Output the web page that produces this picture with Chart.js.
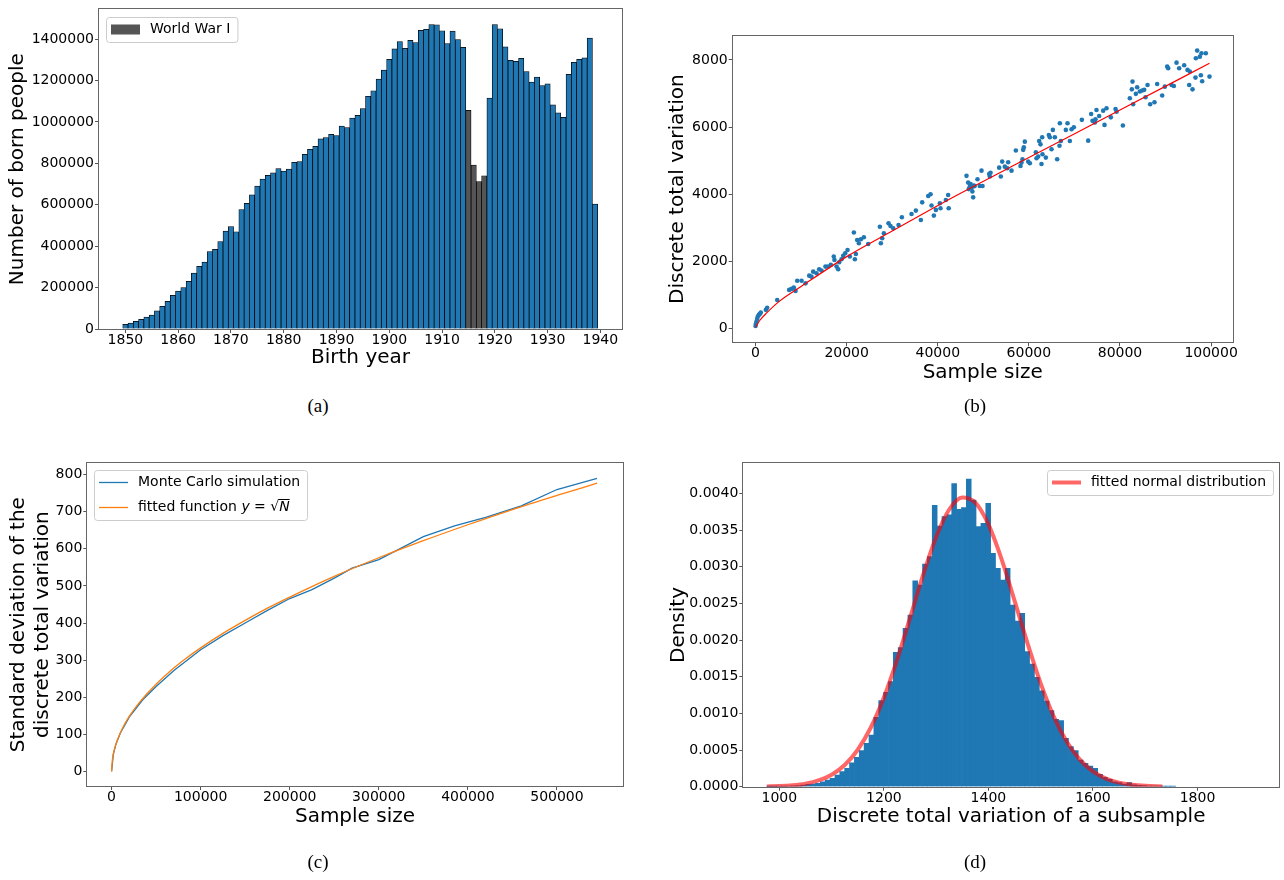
<!DOCTYPE html>
<html>
<head>
<meta charset="utf-8">
<script src="https://cdn.jsdelivr.net/npm/chart.js@4.4.1/dist/chart.umd.min.js"></script>
<style>
  html, body { margin: 0; padding: 0; background: #fff; }
  body { position: relative; width: 1284px; height: 880px; overflow: hidden; }
  canvas { position: absolute; }
  .cap { position: absolute; font: 19px "Liberation Serif", "Times New Roman", serif; color: #000; transform: translate(-50%, -50%); }
</style>
</head>
<body>
<canvas id="births" width="640" height="380" style="left:0;top:0"></canvas>
<canvas id="variation" width="639" height="380" style="left:645px;top:20px"></canvas>
<canvas id="spread" width="640" height="415" style="left:0;top:445px"></canvas>
<canvas id="density" width="634" height="415" style="left:650px;top:445px"></canvas>
<div class="cap" style="left:318px;top:406px">(a)</div>
<div class="cap" style="left:975px;top:406px">(b)</div>
<div class="cap" style="left:318px;top:862px">(c)</div>
<div class="cap" style="left:975px;top:862px">(d)</div>
<script>
// (a) births per year, 1850-1939
const firstYear = 1850;
const births = [
  22300, 28600, 36600, 46100, 57300, 66800, 87500, 109800, 133600, 162300,
  183000, 200500, 230700, 270500, 302300, 323000, 373900, 385000, 421600, 472500,
  494800, 469300, 576000, 606200, 647500, 690500, 723900, 741400, 754100, 774800,
  762100, 771600, 805000, 808200, 843200, 867100, 881400, 918000, 924400, 940300,
  933900, 980000, 972100, 1018200, 1031000, 1064300, 1123200, 1150300, 1206100, 1250500,
  1301600, 1352200, 1387500, 1355500, 1393700, 1382700, 1441400, 1446200, 1470100, 1468700,
  1440000, 1378000, 1438100, 1397100, 1360300, 1056300, 790900, 711200, 739800, 1115400,
  1470100, 1449600, 1361800, 1296800, 1292000, 1306300, 1242400, 1191800, 1215700, 1175600,
  1183700, 1082000, 1043800, 1021400, 1230000, 1287300, 1301600, 1309200, 1404700, 603000
];
const warYears = [1915, 1916, 1917, 1918];

// (b) discrete total variation against sample size, with the fitted trend
const sampleSize = [
  0, 70, 210, 360, 500, 720, 940, 1160, 2260, 2550, 4760, 7380, 7900, 8400, 8780, 9150, 10100, 10970,
  11780, 12280, 12650, 13380, 13970, 14480, 15350, 15930, 16520, 17170, 17320, 17780, 18140, 18360,
  18870, 19240, 19680, 20190, 20700, 21580, 21800, 22020, 22310, 22680, 23120, 23780, 24730, 27290,
  27510, 27800, 28170, 29190, 29630, 30220, 31390, 32120, 34240, 35190, 36290, 36580, 37900, 38410,
  38630, 39140, 39580, 40460, 40600, 41770, 42280, 42400, 46310, 46670, 46800, 47040, 47200, 47450,
  47600, 47770, 47900, 48100, 48720, 49230, 49600, 49820, 51280, 51430, 51580, 53480, 53840, 54140,
  54720, 55230, 55450, 56190, 57140, 58160, 58380, 58600, 58750, 58890, 59110, 59850, 60210, 61530,
  61680, 62040, 62260, 62550, 62770, 62920, 62990, 63720, 64380, 64600, 64970, 65260, 65700, 66210,
  66720, 66800, 67020, 68110, 68480, 68990, 69360, 69870, 71630, 73020, 73670, 73970, 74480, 74620,
  74840, 75430, 76310, 76600, 77040, 77990, 79020, 79240, 80630, 82160, 82600, 82750, 82890, 83480,
  83770, 84360, 84870, 85310, 85600, 86040, 86620, 87570, 88160, 89260, 89840, 90360, 90580, 91310,
  91820, 92410, 92990, 94090, 94820, 95190, 95330, 95920, 96570, 96650, 96940, 97530, 97750, 97890,
  98040, 98840, 99650
];
const totalVariation = [
  70, 130, 200, 280, 350, 400, 430, 470, 550, 615, 845, 1145, 1175, 1215, 1115, 1420, 1420, 1340,
  1570, 1540, 1690, 1640, 1760, 1720, 1840, 1840, 1890, 2140, 2040, 1840, 1760, 1970,
  2060, 2160, 2240, 2335, 2140, 2855, 2060, 2215, 2635, 2535, 2655, 2715, 2515, 3030,
  2535, 2685, 2835, 3130, 3050, 2980, 3080, 3310, 3410, 3510, 3230, 3755, 3945, 3995,
  3660, 3360, 3530, 3730, 3580, 3825, 3975, 3580, 4545, 4345, 4150, 4225, 4300, 4190,
  4080, 3905, 4260, 4240, 4445, 4245, 4700, 4245, 4600, 4525, 4640, 4790, 4525, 4970,
  4820, 4770, 4950, 4700, 5300, 4840, 4940, 5040, 5320, 5395, 5565, 4970, 4920, 5250,
  5070, 5120, 5585, 5485, 4900, 5695, 5190, 5090, 5765, 5695, 5340, 5915, 5695, 5040,
  5445, 6115, 5585, 5915, 6115, 5585, 5935, 5995, 6215, 5595, 6390, 6185, 6135, 6235,
  6510, 6330, 6490, 6065, 6560, 6290, 6540, 6460, 6045, 6860, 7125, 7355, 6680, 6990,
  7185, 7060, 7090, 7110, 6890, 7255, 6680, 6740, 7285, 6940, 7205, 7805, 7755, 7255,
  7225, 7920, 7755, 7845, 7705, 7255, 7655, 7125, 7475, 8050, 8280, 8100, 7545, 8200,
  7365, 8200, 7505
];
const trendSize = [0, 1000, 2500, 5000, 10000, 20000, 30000, 42650, 60000, 80000, 99650];
const trendVariation = [30, 248, 467, 780, 1245, 2137, 2900, 3857, 5090, 6506, 7902];

// (c) standard deviation of the discrete total variation
const mcSize = [0, 2000, 5000, 10000, 20000, 35000, 50000, 70000, 100000, 125000, 150000, 175000,
  200000, 225000, 250000, 270000, 300000, 325000, 350000, 385000, 420000, 460000, 500000, 545000];
const mcStd = [0, 46, 74, 104, 147, 193, 229, 272, 328, 366, 400, 434,
  466, 490, 521, 548, 571, 602, 633, 662, 685, 716, 760, 790];
const fitSize = [0, 1000, 3000, 6000, 10000, 15000, 20000, 30000, 40000, 50000, 60000, 80000,
  100000, 125000, 150000, 175000, 200000, 250000, 300000, 350000, 400000, 450000, 500000, 545000];
const fitStd = [0, 33, 58, 81, 105, 129, 149, 182, 210, 235, 258, 298,
  333, 372, 407, 440, 470, 526, 576, 622, 665, 706, 744, 777];

// (d) histogram of subsample variation (100 bins) and fitted normal pdf
const binStart = 976;
const binWidth = 9.31;
const binDensity = [
  0.000002, 0.000002, 0.000005, 0.000005, 0.000009, 0.000011, 0.000016, 0.000023,
  0.000032, 0.000036, 0.000045, 0.000068, 0.000091, 0.000114, 0.000159, 0.000205,
  0.00025, 0.000327, 0.0004, 0.000491, 0.000591, 0.000705, 0.000946, 0.001173,
  0.001287, 0.001432, 0.001832, 0.001896, 0.002159, 0.002341, 0.002809, 0.002751,
  0.003037, 0.003137, 0.003838, 0.003555, 0.003682, 0.003706, 0.004132, 0.003783,
  0.003805, 0.004196, 0.00391, 0.003546, 0.003591, 0.003864, 0.003182, 0.002978,
  0.002819, 0.002978, 0.002478, 0.002259, 0.002364, 0.001841, 0.001673, 0.001491,
  0.001309, 0.001168, 0.001037, 0.000918, 0.0009, 0.000659, 0.000546, 0.000491,
  0.000364, 0.000318, 0.000282, 0.00025, 0.000168, 0.000127, 0.0001, 0.000068,
  0.000055, 0.000036, 0.000055, 0.000027, 0.000018, 0.000014, 0.00001, 0.000009,
  0.000007, 0.000005, 0.000005, 0.000003, 0, 0, 0, 0, 0, 0,
  0, 0, 0, 0, 0, 0, 0, 0, 0, 0
];
const normalX = [976, 1000, 1025, 1050, 1075, 1100, 1125, 1150, 1175, 1200, 1225, 1250, 1275, 1300,
  1325, 1350, 1375, 1400, 1425, 1450, 1475, 1500, 1525, 1550, 1575, 1600, 1625, 1650, 1675, 1700, 1733];
const normalPdf = [0.0000035, 0.0000082, 0.000019, 0.000041, 0.000085, 0.000163, 0.000295, 0.000504,
  0.000807, 0.001216, 0.001726, 0.002301, 0.002887, 0.003406, 0.00378, 0.003945, 0.003873, 0.003577,
  0.003107, 0.002538, 0.001951, 0.001409, 0.000958, 0.000612, 0.000369, 0.000208, 0.000111,
  0.000055, 0.000026, 0.0000116, 0.0000036];

const BLUE = '#1f77b4';
const ORANGE = '#ff7f0e';
const WAR = '#555555';
const FIT_RED = 'rgba(255, 0, 0, 0.6)';

Chart.defaults.font.family = '"DejaVu Sans", sans-serif';
Chart.defaults.color = '#000';
Chart.defaults.animation = false;

const pairs = (xs, ys) => xs.map((x, i) => ({ x, y: ys[i] }));

// legends sit inside the plot area, keyed by canvas id
const LEGENDS = {
  births: { side: 'left', dx: 7, dy: 8, items: [
    { swatch: 'box', color: WAR, parts: [['World War I']] }
  ] },
  spread: { side: 'left', dx: 7, dy: 7, items: [
    { swatch: 'line', color: BLUE, width: 1.3, parts: [['Monte Carlo simulation']] },
    { swatch: 'line', color: ORANGE, width: 1.3,
      parts: [['fitted function '], ['y', 'i'], [' = '], ['\u221A'], ['N', 'i', 'bar']] }
  ] },
  density: { side: 'right', dx: 6, dy: 7, items: [
    { swatch: 'line', color: FIT_RED, width: 4, parts: [['fitted normal distribution']] }
  ] }
};

// box around the whole plot area
const frame = {
  id: 'frame',
  afterDatasetsDraw(chart) {
    const { ctx, chartArea: a } = chart;
    ctx.save();
    ctx.strokeStyle = '#666';
    ctx.lineWidth = 1;
    const l = Math.round(a.left), t = Math.round(a.top);
    ctx.strokeRect(l - 0.5, t - 0.5, Math.round(a.right) - l + 1, Math.round(a.bottom) - t + 1);
    ctx.restore();
  }
};

const insetLegend = {
  id: 'insetLegend',
  afterDraw(chart) {
    const spec = LEGENDS[chart.canvas.id];
    if (!spec) return;
    const { ctx, chartArea: a } = chart;
    const fontOf = p => (p[1] === 'i' ? 'italic ' : '') + '14px "DejaVu Sans"';
    ctx.save();
    const widths = spec.items.map(it => it.parts.reduce((w, p) => {
      ctx.font = fontOf(p);
      return w + ctx.measureText(p[0]).width;
    }, 0));
    const w = 44 + Math.max(...widths) + 7;
    const h = 25 * spec.items.length;
    const x = Math.round(spec.side === 'left' ? a.left + spec.dx : a.right - spec.dx - w);
    const y = Math.round(a.top + spec.dy);
    ctx.beginPath();
    if (ctx.roundRect) ctx.roundRect(x + 0.5, y + 0.5, w, h, 3);
    else ctx.rect(x + 0.5, y + 0.5, w, h);
    ctx.fillStyle = 'rgba(255,255,255,0.8)';
    ctx.fill();
    ctx.strokeStyle = '#cccccc';
    ctx.lineWidth = 1;
    ctx.stroke();
    spec.items.forEach((it, i) => {
      const cy = y + 12.5 + 25 * i;
      if (it.swatch === 'box') {
        ctx.fillStyle = it.color;
        ctx.fillRect(x + 5, cy - 5, 29, 10);
      } else {
        ctx.strokeStyle = it.color;
        ctx.lineWidth = it.width;
        ctx.beginPath();
        ctx.moveTo(x + 5, cy);
        ctx.lineTo(x + 34, cy);
        ctx.stroke();
      }
      let tx = x + 44;
      ctx.fillStyle = '#000';
      ctx.textBaseline = 'middle';
      it.parts.forEach(p => {
        ctx.font = fontOf(p);
        ctx.fillText(p[0], tx, cy);
        const pw = ctx.measureText(p[0]).width;
        if (p[2] === 'bar') {
          ctx.strokeStyle = '#000';
          ctx.lineWidth = 1;
          ctx.beginPath();
          ctx.moveTo(tx - 1, cy - 8);
          ctx.lineTo(tx + pw, cy - 8);
          ctx.stroke();
        }
        tx += pw;
      });
    });
    ctx.restore();
  }
};

// linear axis with a fixed thickness so every plot area lands where it should;
// ticks are placed on whole multiples of the step inside [min, max]
function axis(pos, min, max, step, size, title, titlePad, fmt) {
  return {
    type: 'linear', position: pos, min, max, offset: false,
    afterFit(scale) {
      if (pos === 'left') scale.width = size; else scale.height = size;
    },
    afterBuildTicks(scale) {
      const ticks = [];
      for (let k = Math.ceil(min / step); k * step <= max + 1e-12; k++) ticks.push({ value: k * step });
      scale.ticks = ticks;
    },
    border: { display: false },
    grid: { drawOnChartArea: false, offset: false, color: '#555', tickLength: 4, tickWidth: 1 },
    ticks: {
      autoSkip: false, maxRotation: 0,
      padding: pos === 'left' ? 1 : -1, color: '#000', font: { size: 14 },
      callback: fmt || (v => String(v))
    },
    title: { display: true, text: title, color: '#000', font: { size: 20 }, padding: titlePad }
  };
}

const quiet = { legend: { display: false }, tooltip: { enabled: false } };
const LEFT_PAD = top => ({ top, bottom: 0 });
const BOTTOM_PAD = { top: 0, bottom: 3 };

// (a)
new Chart(document.getElementById('births'), {
  type: 'bar',
  data: {
    datasets: [{
      data: births.map((v, i) => ({ x: firstYear + i, y: v })),
      backgroundColor: c => warYears.includes(firstYear + c.dataIndex) ? WAR : BLUE,
      borderColor: '#000',
      borderWidth: 0.75,
      barPercentage: 1,
      categoryPercentage: 1
    }]
  },
  options: {
    responsive: false,
    layout: { padding: { left: 0, top: 5, right: 18, bottom: 7 } },
    plugins: quiet,
    scales: {
      x: axis('bottom', 1845, 1944.1, 10, 44, 'Birth year', BOTTOM_PAD),
      y: axis('left', 0, 1543000, 200000, 99, 'Number of born people', LEFT_PAD(6))
    }
  },
  plugins: [frame, insetLegend]
});

// (b)
new Chart(document.getElementById('variation'), {
  type: 'scatter',
  data: {
    datasets: [{
      type: 'line',
      data: pairs(trendSize, trendVariation),
      borderColor: '#ff0000',
      borderWidth: 1.2,
      pointRadius: 0,
      cubicInterpolationMode: 'monotone'
    }, {
      data: pairs(sampleSize, totalVariation),
      backgroundColor: BLUE,
      borderWidth: 0,
      pointRadius: 2.3
    }]
  },
  options: {
    responsive: false,
    layout: { padding: { left: 15, top: 16, right: 51.3, bottom: 12 } },
    plugins: quiet,
    scales: {
      x: axis('bottom', -5016, 104740, 20000, 45.7, 'Sample size', BOTTOM_PAD),
      y: axis('left', -417, 8715, 2000, 72.7, 'Discrete total variation', LEFT_PAD(6))
    }
  },
  plugins: [frame]
});

// (c)
new Chart(document.getElementById('spread'), {
  type: 'line',
  data: {
    datasets: [{
      data: pairs(mcSize, mcStd),
      borderColor: BLUE,
      borderWidth: 1.3,
      pointRadius: 0,
      order: 1
    }, {
      data: pairs(fitSize, fitStd),
      borderColor: ORANGE,
      borderWidth: 1.3,
      pointRadius: 0,
      cubicInterpolationMode: 'monotone',
      order: 0
    }]
  },
  options: {
    responsive: false,
    layout: { padding: { left: 0, top: 18.3, right: 17.3, bottom: 28 } },
    plugins: quiet,
    scales: {
      x: axis('bottom', -27250, 573800, 100000, 46, 'Sample size', BOTTOM_PAD),
      y: axis('left', -39.5, 830.7, 100, 87.3,
        ['Standard deviation of the', 'discrete total variation'], LEFT_PAD(7))
    }
  },
  plugins: [frame, insetLegend]
});

// (d) empty bins are left out so they leave no sliver on the axis
new Chart(document.getElementById('density'), {
  type: 'bar',
  data: {
    datasets: [{
      type: 'line',
      data: pairs(normalX, normalPdf),
      borderColor: FIT_RED,
      borderWidth: 4,
      pointRadius: 0,
      cubicInterpolationMode: 'monotone',
      order: 0
    }, {
      data: binDensity.map((v, i) => ({ x: binStart + binWidth * (i + 0.5), y: v || null })),
      backgroundColor: BLUE,
      borderWidth: 0,
      barPercentage: 1,
      categoryPercentage: 1,
      order: 1
    }]
  },
  options: {
    responsive: false,
    layout: { padding: { left: 10.3, top: 18.3, right: 5, bottom: 28 } },
    plugins: quiet,
    scales: {
      x: axis('bottom', 931, 1956, 200, 45.3, 'Discrete total variation of a subsample', BOTTOM_PAD),
      y: axis('left', 0, 0.00441, 0.0005, 83, 'Density', LEFT_PAD(6), v => v.toFixed(4))
    }
  },
  plugins: [frame, insetLegend]
});
</script>
</body>
</html>
